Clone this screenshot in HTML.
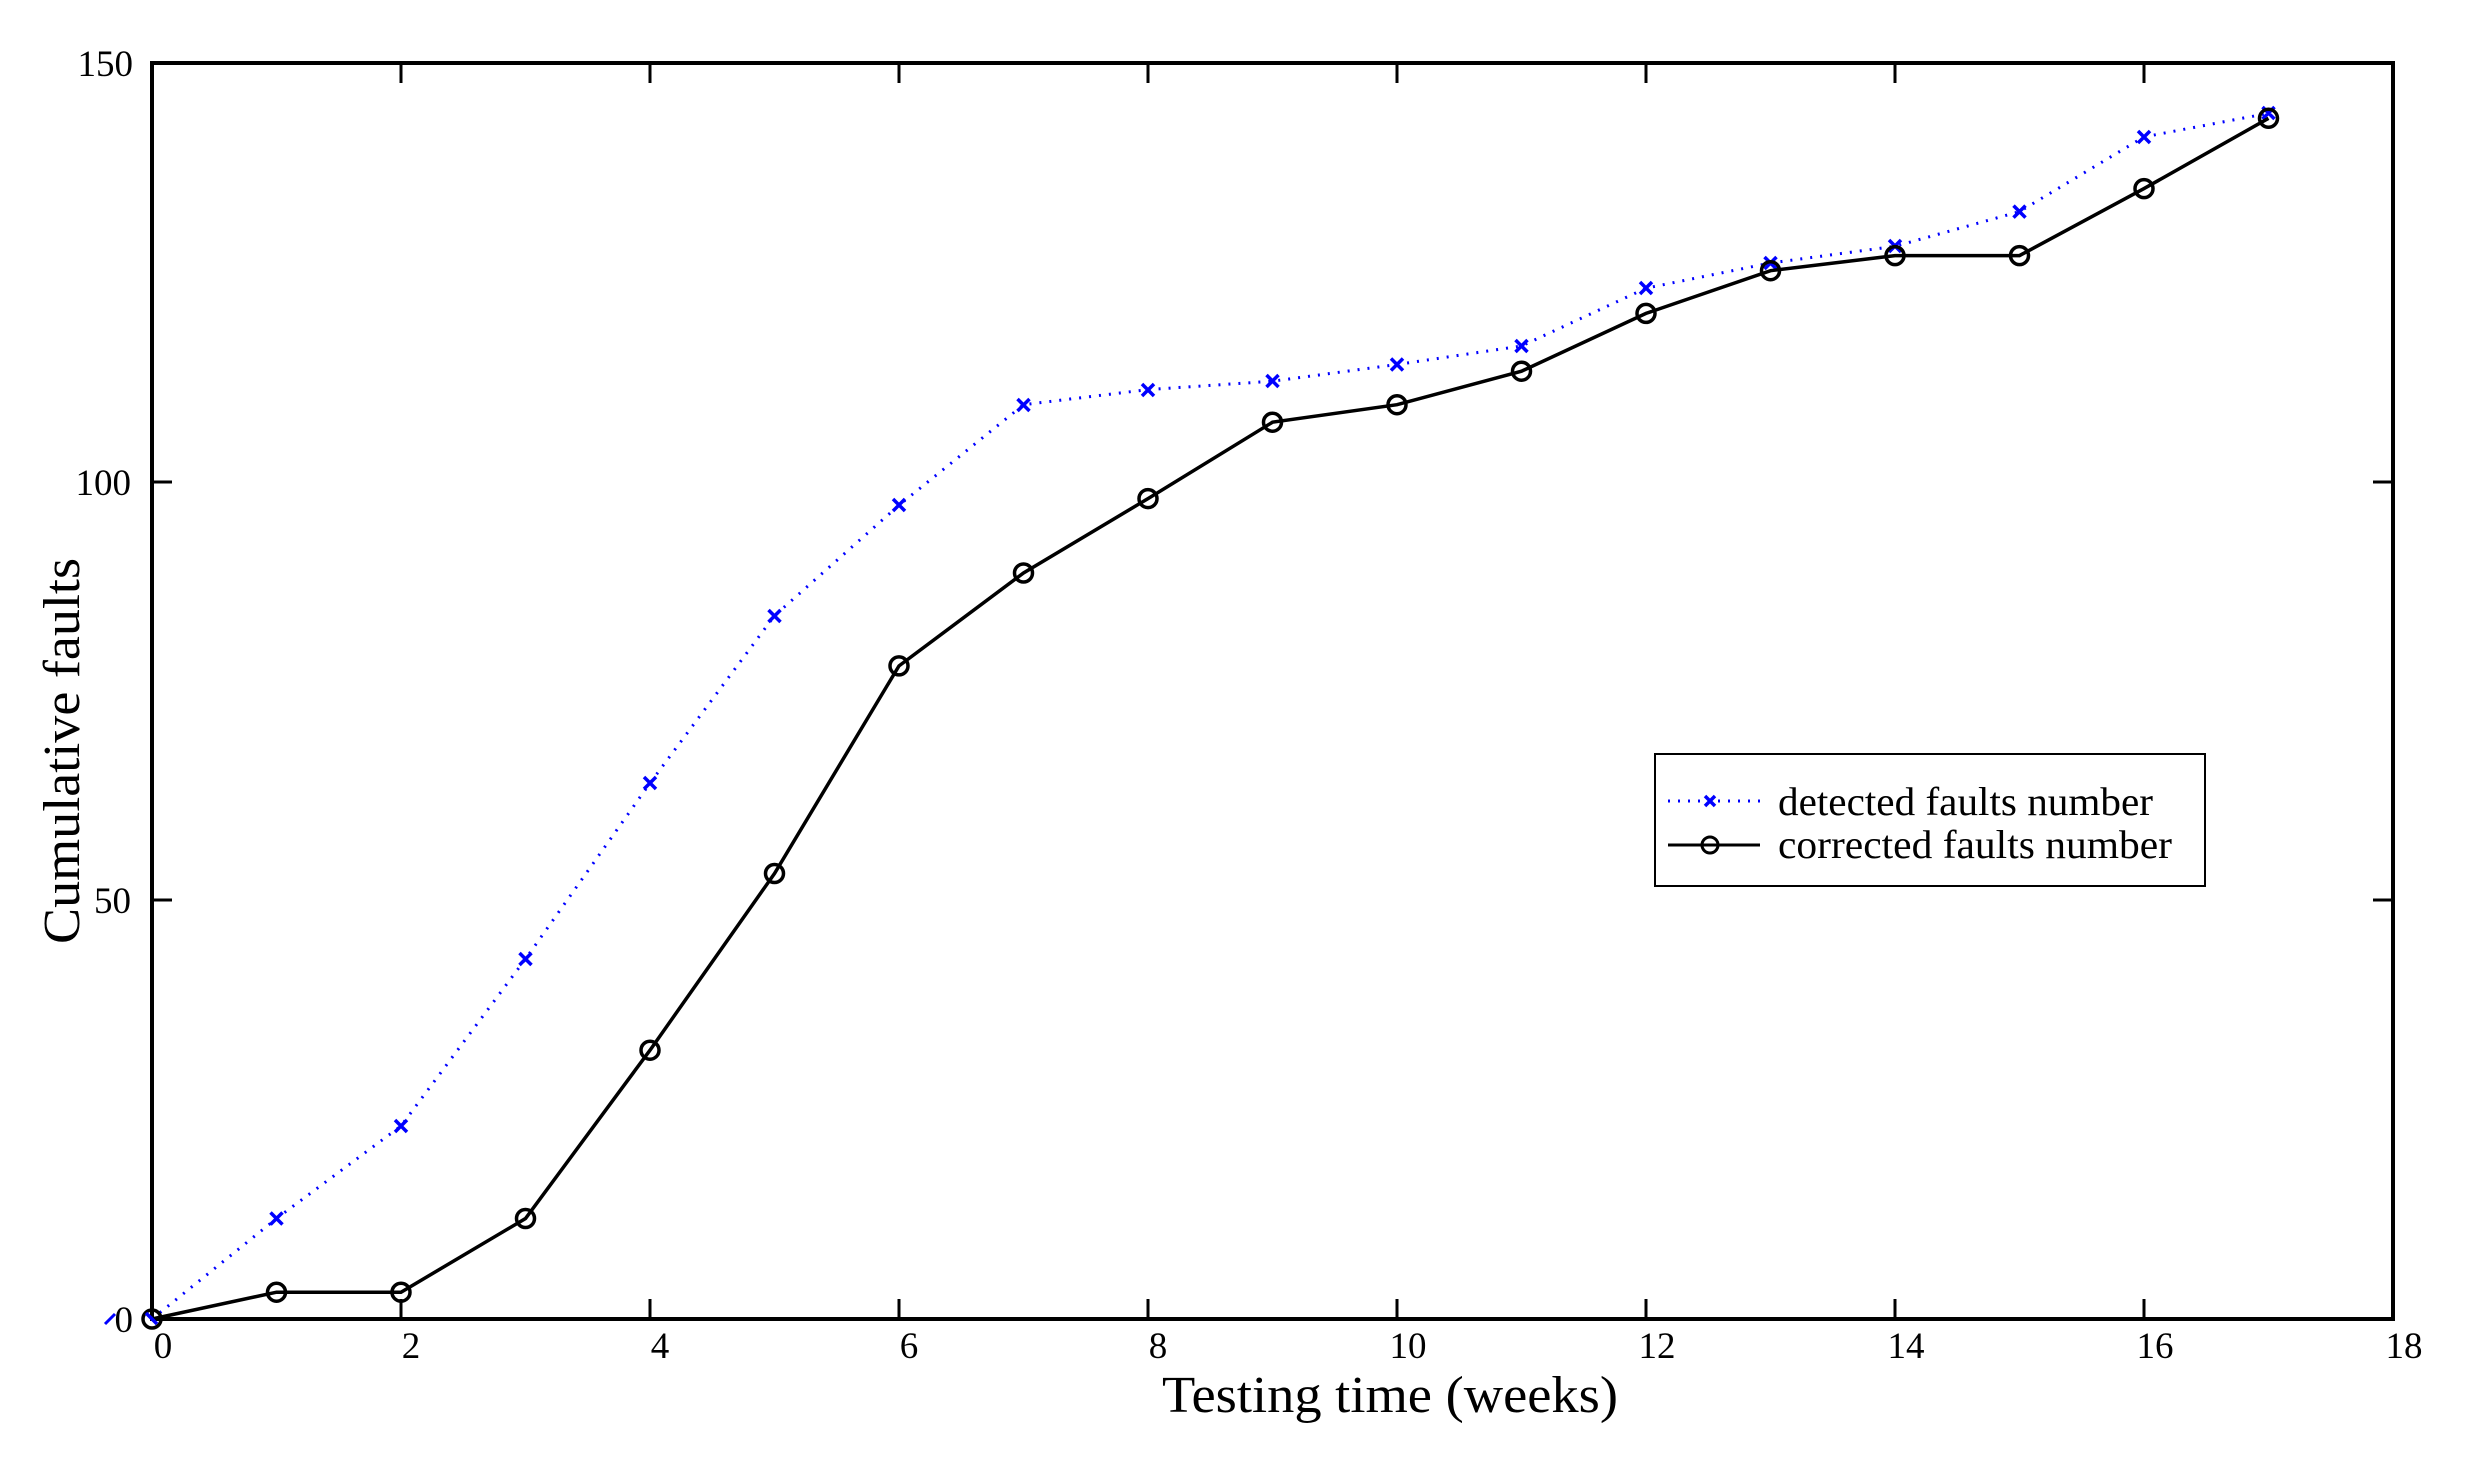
<!DOCTYPE html>
<html><head><meta charset="utf-8"><style>html,body{margin:0;padding:0;background:#fff}svg{display:block}</style></head>
<body>
<svg xmlns="http://www.w3.org/2000/svg" width="2468" height="1468" viewBox="0 0 2468 1468" font-family="'Liberation Serif', serif">
<rect width="2468" height="1468" fill="#fff"/>
<g stroke="#000" stroke-width="3">
<rect x="152" y="63" width="2241" height="1256" fill="none" stroke-width="4"/>
<path d="M401,1319v-20M650,1319v-20M899,1319v-20M1148,1319v-20M1397,1319v-20M1646,1319v-20M1895,1319v-20M2144,1319v-20
M401,63v20M650,63v20M899,63v20M1148,63v20M1397,63v20M1646,63v20M1895,63v20M2144,63v20
M152,900h20M152,482h20M2393,900h-20M2393,482h-20"/>
</g>
<g font-size="37" fill="#000">
<text x="133" y="1332" text-anchor="end">0</text>
<text x="131" y="913" text-anchor="end">50</text>
<text x="131" y="495" text-anchor="end">100</text>
<text x="133" y="76" text-anchor="end">150</text>
<g text-anchor="middle">
<text x="163" y="1358">0</text><text x="411" y="1358">2</text><text x="660" y="1358">4</text><text x="909" y="1358">6</text><text x="1158" y="1358">8</text><text x="1408" y="1358">10</text><text x="1657" y="1358">12</text><text x="1906" y="1358">14</text><text x="2155" y="1358">16</text><text x="2404" y="1358">18</text>
</g>
</g>
<line x1="105" y1="1324" x2="115" y2="1314" stroke="#00f" stroke-width="3"/>
<text x="1390" y="1412" font-size="52" text-anchor="middle" textLength="456" lengthAdjust="spacingAndGlyphs">Testing time (weeks)</text>
<text transform="translate(79,751) rotate(-90)" font-size="52" text-anchor="middle" textLength="386" lengthAdjust="spacingAndGlyphs">Cumulative faults</text>
<polyline fill="none" stroke="#00f" stroke-width="3" stroke-dasharray="2,8" points="152.0,1319.0 276.5,1218.5 401.0,1126.0 525.5,959.0 650.0,783.1 774.5,615.7 899.0,505.2 1023.5,404.7 1148.0,389.6 1272.5,381.2 1397.0,364.5 1521.5,346.0 1646.0,288.2 1770.5,263.0 1895.0,246.3 2019.5,211.6 2144.0,136.9 2268.5,113.3"/>
<g stroke="#00f" stroke-width="3.5" fill="none">
<path d="M270.5,1212.5l12,12m0,-12l-12,12 M395,1120l12,12m0,-12l-12,12 M519.5,953l12,12m0,-12l-12,12 M644,777l12,12m0,-12l-12,12 M768.5,610l12,12m0,-12l-12,12 M893,499l12,12m0,-12l-12,12 M1017.5,399l12,12m0,-12l-12,12 M1142,384l12,12m0,-12l-12,12 M1266.5,375l12,12m0,-12l-12,12 M1391,358.5l12,12m0,-12l-12,12 M1515.5,340l12,12m0,-12l-12,12 M1640,282l12,12m0,-12l-12,12 M1764.5,257l12,12m0,-12l-12,12 M1889,240l12,12m0,-12l-12,12 M2013.5,205.6l12,12m0,-12l-12,12 M2138,131l12,12m0,-12l-12,12 M2262.5,107l12,12m0,-12l-12,12"/>
</g>
<polyline fill="none" stroke="#000" stroke-width="3.5" points="152.0,1319.0 276.5,1292.2 401.0,1292.2 525.5,1218.5 650.0,1050.2 774.5,873.5 899.0,665.9 1023.5,573.0 1148.0,498.6 1272.5,422.2 1397.0,404.7 1521.5,371.2 1646.0,313.4 1770.5,270.7 1895.0,255.6 2019.5,255.6 2144.0,188.6 2268.5,118.3"/>
<g fill="none" stroke="#000" stroke-width="3.5">
<circle cx="152" cy="1319" r="9"/><circle cx="276.5" cy="1292.2" r="9"/><circle cx="401" cy="1292.2" r="9"/><circle cx="525.5" cy="1218.5" r="9"/><circle cx="650" cy="1050.2" r="9"/><circle cx="774.5" cy="873.5" r="9"/><circle cx="899" cy="665.9" r="9"/><circle cx="1023.5" cy="573" r="9"/><circle cx="1148" cy="498.6" r="9"/><circle cx="1272.5" cy="422.2" r="9"/><circle cx="1397" cy="404.7" r="9"/><circle cx="1521.5" cy="371.2" r="9"/><circle cx="1646" cy="313.4" r="9"/><circle cx="1770.5" cy="270.7" r="9"/><circle cx="1895" cy="255.6" r="9"/><circle cx="2019.5" cy="255.6" r="9"/><circle cx="2144" cy="188.6" r="9"/><circle cx="2268.5" cy="118.3" r="9"/>
</g>
<line x1="146" y1="1313" x2="157" y2="1324" stroke="#00f" stroke-width="3.5"/>
<rect x="1655" y="754" width="550" height="132" fill="#fff" stroke="#000" stroke-width="2"/>
<line x1="1668" y1="801" x2="1760" y2="801" stroke="#00f" stroke-width="3" stroke-dasharray="2,8"/>
<path d="M1705,796l10,10m0,-10l-10,10" stroke="#00f" stroke-width="3.5"/>
<line x1="1668" y1="845" x2="1760" y2="845" stroke="#000" stroke-width="3"/>
<circle cx="1710" cy="845" r="8" fill="none" stroke="#000" stroke-width="3"/>
<text x="1778" y="815" font-size="40" textLength="375" lengthAdjust="spacingAndGlyphs">detected faults number</text>
<text x="1778" y="858" font-size="40" textLength="394" lengthAdjust="spacingAndGlyphs">corrected faults number</text>
</svg>
</body></html>
